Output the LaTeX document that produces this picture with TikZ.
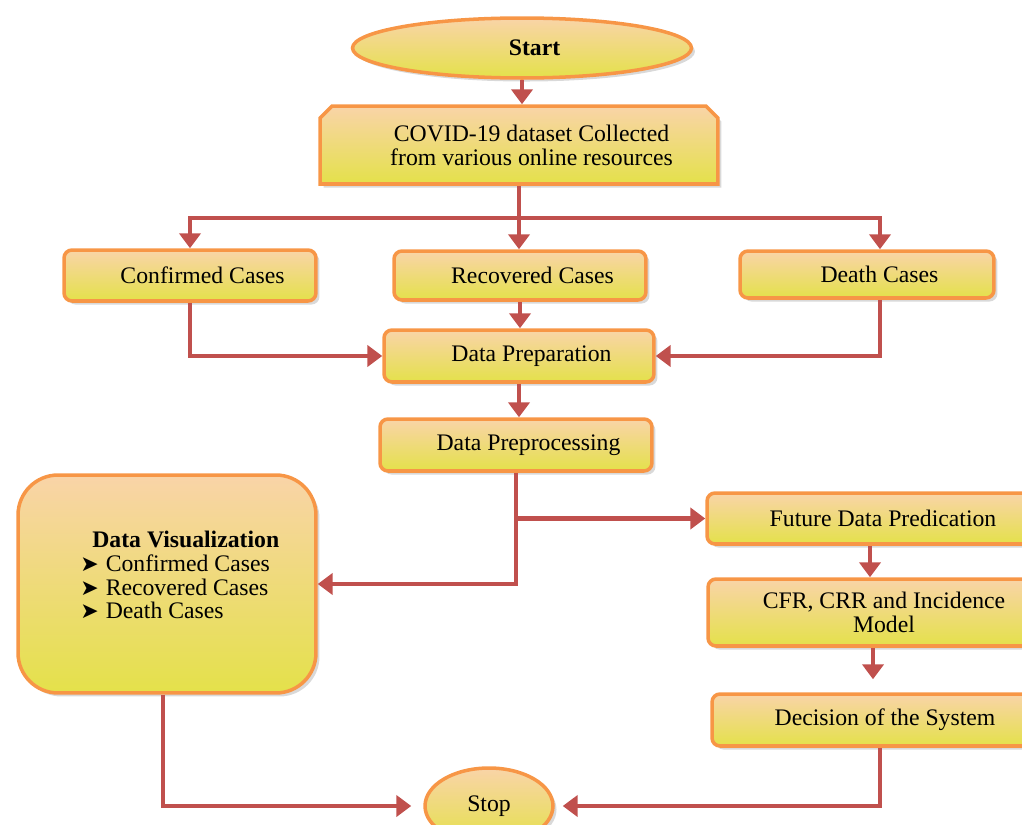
\documentclass[tikz,border=0pt]{standalone}
\usepackage{fontspec}
\setmainfont{Liberation Serif}
\newfontfamily\symfont{DejaVu Sans}
\usetikzlibrary{arrows.meta,shapes.geometric,shapes.misc,shadows,calc}
\definecolor{bord}{HTML}{F79646}
\definecolor{topc}{HTML}{F9D4A8}
\definecolor{botc}{HTML}{E4E14A}
\definecolor{lnred}{HTML}{C0504D}
\tikzset{
 base/.style={draw=bord, line width=2pt, top color=topc, bottom color=botc,
   drop shadow={opacity=0.3, shadow xshift=2pt, shadow yshift=-2pt},
   font=\fontsize{13.5}{13.6}\selectfont, inner sep=0pt, align=center},
 box/.style={base, rectangle, rounded corners=0.16cm},
 oval/.style={base, ellipse},
 rt/.style={execute at begin node=\hspace*{0.5cm}},
 arr/.style={draw=lnred, line width=2.8pt, -{Triangle[width=12pt,length=8.5pt]}},
 ln/.style={draw=lnred, line width=2.8pt},
}
\newcommand{\bulmark}{{\symfont\fontsize{12.5}{12.5}\selectfont ➤}\hspace{0.14cm}}
\begin{document}
\begin{tikzpicture}[x=0.02cm,y=-0.02cm]
\useasboundingbox (0,0) rectangle (1022,825);
\clip (0,0) rectangle (1022,825);
% nodes
\node[oval, rt, minimum width=6.78cm, minimum height=1.2cm] (start) at (522,48) {\textbf{Start}};
\node[base, chamfered rectangle, chamfered rectangle corners={north west,north east},
      chamfered rectangle xsep=0.12cm, chamfered rectangle ysep=0.12cm, rt,
      minimum width=7.96cm, minimum height=1.56cm] (dataset) at (519,145)
      {COVID-19 dataset Collected\\from various online resources};
\node[box, rt, minimum width=5.04cm, minimum height=1.02cm] (confirmed) at (190,275.5) {Confirmed Cases};
\node[box, rt, minimum width=5.04cm, minimum height=0.98cm] (recovered) at (520,275.5) {Recovered Cases};
\node[box, rt, minimum width=5.08cm, minimum height=0.94cm] (death) at (867,274.5) {Death Cases};
\node[box, rt, minimum width=5.4cm, minimum height=1.04cm] (prep) at (519,356) {Data Preparation};
\node[box, rt, minimum width=5.44cm, minimum height=1.04cm] (preproc) at (516,445) {Data Preprocessing};
\node[box, rounded corners=0.8cm, minimum width=5.96cm, minimum height=4.36cm] (dv) at (167,584) {};
\node[font=\fontsize{13.5}{13.6}\selectfont, align=left, inner sep=0pt, anchor=west] (dvtext) at (80,575)
  {\hspace*{0.24cm}\textbf{Data Visualization}\\ \bulmark Confirmed Cases\\ \bulmark Recovered Cases\\ \bulmark Death Cases};
\node[box, minimum width=7.04cm, minimum height=1.02cm] (future) at (883,518.5) {Future Data Predication};
\node[box, minimum width=7.04cm, minimum height=1.34cm] (cfr) at (884,612.5) {CFR, CRR and Incidence\\Model};
\node[box, minimum width=6.92cm, minimum height=1.04cm] (decision) at (885,720) {Decision of the System};
\node[oval, minimum width=2.56cm, minimum height=1.52cm] (stop) at (489,806) {Stop};
% connectors
\coordinate (split) at (519,218);
\draw[arr] (start.south) -- (start.south |- dataset.north);
\draw[ln] (dataset.south) -- (split);
\draw[arr] (split) -- (split |- recovered.north);
\draw[arr] (split) -| (confirmed.north);
\draw[arr] (split) -| ([xshift=0.26cm]death.north);
\draw[arr] (confirmed.south) |- (prep.west);
\draw[arr] (recovered.south) -- (recovered.south |- prep.north);
\draw[arr] ([xshift=0.26cm]death.south) |- (prep.east);
\draw[arr] (prep.south) -- (prep.south |- preproc.north);
\coordinate (br) at (preproc.south |- future.west);
\draw[arr] (preproc.south) |- (dv.east);
\draw[arr] (br) -- (future.west);
\draw[arr] ([xshift=-0.26cm]future.south) -- ([xshift=-0.26cm]future.south |- cfr.north);
\draw[arr, shorten >=0.26cm] ([xshift=-0.22cm]cfr.south) -- ([xshift=-0.22cm]cfr.south |- decision.north);
\draw[arr, shorten >=0.16cm] ([xshift=-0.1cm]decision.south) |- (stop.east);
\draw[arr, shorten >=0.24cm] ([xshift=-0.08cm]dv.south) |- (stop.west);
\end{tikzpicture}
\end{document}
